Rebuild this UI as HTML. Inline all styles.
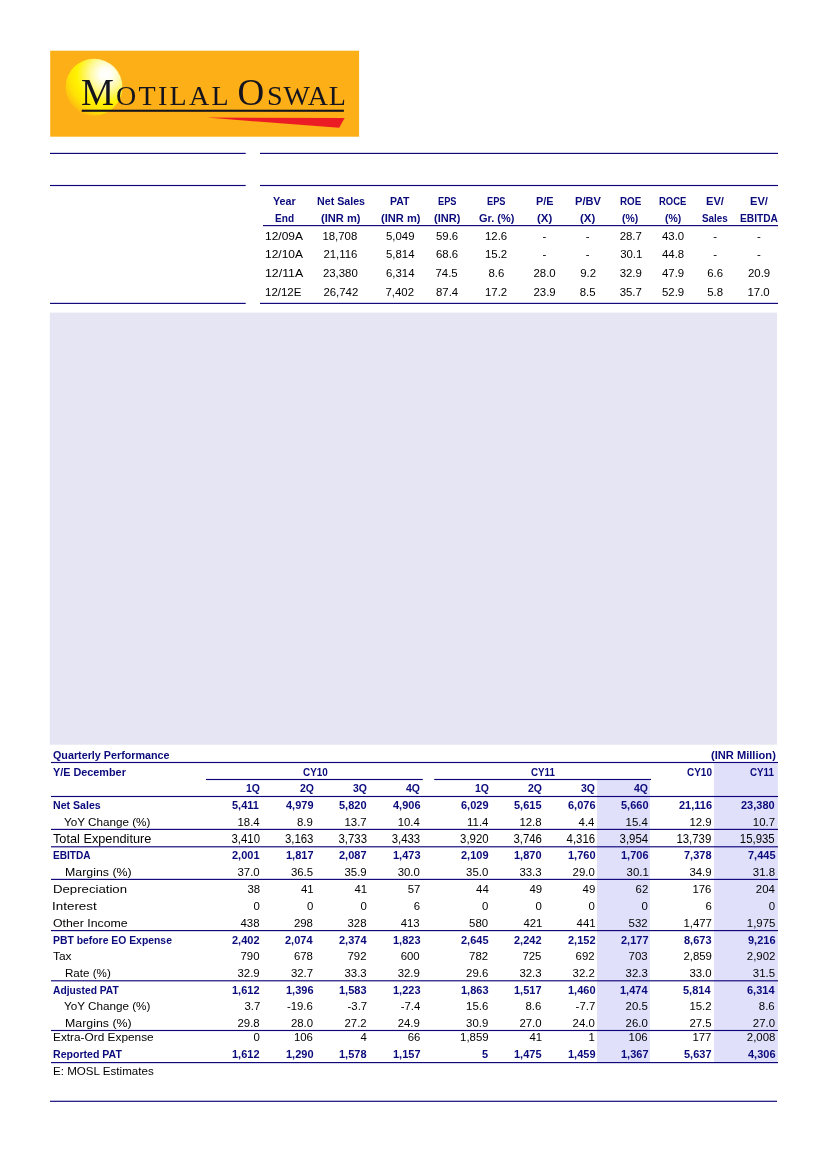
<!DOCTYPE html>
<html><head><meta charset="utf-8"><title>Motilal Oswal</title>
<style>
html,body{margin:0;padding:0;background:#fff}
body{width:826px;height:1169px;position:relative;overflow:hidden;font-family:"Liberation Sans",sans-serif;color:#000}
.ln,.bx,.t{position:absolute}
.t{white-space:nowrap;line-height:16px;font-size:11.4px;transform-origin:0 0}
#logo{position:absolute;left:50px;top:50px}
#rules{position:absolute;left:0;top:0}
</style></head><body>
<svg id="logo" width="310" height="88" viewBox="50 50 310 88">
<defs><radialGradient id="sun" cx="0.71" cy="0.27" r="0.82" fx="0.71" fy="0.27"><stop offset="0" stop-color="#ffffff"/><stop offset="0.13" stop-color="#fffff4"/><stop offset="0.32" stop-color="#fffaa8"/><stop offset="0.5" stop-color="#fff545"/><stop offset="0.63" stop-color="#fff200"/><stop offset="0.8" stop-color="#ffe205"/><stop offset="1" stop-color="#fdb813"/></radialGradient></defs>
<rect x="50.2" y="50.7" width="308.9" height="86" fill="#fdaf17"/>
<circle cx="94" cy="87.2" r="28.4" fill="url(#sun)"/>
<rect x="81.7" y="109.7" width="262.2" height="2.1" fill="#14141e"/>
<polygon points="207,117.6 344.6,117.9 339.2,127.8" fill="#ec1c24"/>
<text y="105.4" font-family="'Liberation Serif',serif" fill="#14141e" font-size="28"><tspan x="81" font-size="37">M</tspan><tspan x="116" letter-spacing="2.3">OTILAL</tspan><tspan x="229"> </tspan><tspan x="237.5" font-size="37">O</tspan><tspan x="267" letter-spacing="0.9">SWAL</tspan></text>
</svg>

<svg id="rules" width="826" height="1169" viewBox="0 0 826 1169">
<rect x="713.9" y="763.2" width="63.90" height="299.40" fill="#e0e0fb"/>
<rect x="597" y="780.2" width="52.90" height="282.40" fill="#e0e0fb"/>
<rect x="49.8" y="312.6" width="727.20" height="432.10" fill="#e6e5f3"/>
<rect x="50" y="152.83" width="195.70" height="1.15" fill="#0e047a"/>
<rect x="260" y="152.83" width="518.00" height="1.15" fill="#0e047a"/>
<rect x="50" y="184.93" width="195.70" height="1.15" fill="#0e047a"/>
<rect x="260" y="184.93" width="518.00" height="1.15" fill="#0e047a"/>
<rect x="263" y="225.03" width="515.00" height="1.15" fill="#0e047a"/>
<rect x="50" y="302.82" width="195.70" height="1.15" fill="#0e047a"/>
<rect x="260" y="302.82" width="518.00" height="1.15" fill="#0e047a"/>
<rect x="51" y="761.92" width="727.00" height="1.15" fill="#0e047a"/>
<rect x="206" y="778.92" width="216.80" height="1.15" fill="#0e047a"/>
<rect x="434.2" y="778.92" width="216.80" height="1.15" fill="#0e047a"/>
<rect x="51" y="795.92" width="727.00" height="1.15" fill="#0e047a"/>
<rect x="51" y="828.82" width="727.00" height="1.15" fill="#0e047a"/>
<rect x="51" y="846.22" width="727.00" height="1.15" fill="#0e047a"/>
<rect x="51" y="878.82" width="727.00" height="1.15" fill="#0e047a"/>
<rect x="51" y="930.02" width="727.00" height="1.15" fill="#0e047a"/>
<rect x="51" y="980.22" width="727.00" height="1.15" fill="#0e047a"/>
<rect x="51" y="1029.92" width="727.00" height="1.15" fill="#0e047a"/>
<rect x="51" y="1062.02" width="727.00" height="1.15" fill="#0e047a"/>
<rect x="50" y="1100.72" width="727.00" height="1.15" fill="#0e047a"/>
</svg>
<span class="t" style="left:273.05px;top:192.95px;color:#0a0a7c;font-weight:bold;transform:scale(0.946,1.000);">Year</span>
<span class="t" style="left:275.10px;top:209.85px;color:#0a0a7c;font-weight:bold;transform:scale(0.886,1.000);">End</span>
<span class="t" style="left:316.50px;top:192.95px;color:#0a0a7c;font-weight:bold;transform:scale(0.937,1.000);">Net Sales</span>
<span class="t" style="left:320.90px;top:209.85px;color:#0a0a7c;font-weight:bold;transform:scale(0.975,1.000);">(INR m)</span>
<span class="t" style="left:390.35px;top:192.95px;color:#0a0a7c;font-weight:bold;transform:scale(0.919,1.000);">PAT</span>
<span class="t" style="left:380.50px;top:209.85px;color:#0a0a7c;font-weight:bold;transform:scale(0.975,1.000);">(INR m)</span>
<span class="t" style="left:437.70px;top:192.95px;color:#0a0a7c;font-weight:bold;transform:scale(0.809,1.000);">EPS</span>
<span class="t" style="left:433.95px;top:209.85px;color:#0a0a7c;font-weight:bold;transform:scale(0.967,1.000);">(INR)</span>
<span class="t" style="left:487.20px;top:192.95px;color:#0a0a7c;font-weight:bold;transform:scale(0.809,1.000);">EPS</span>
<span class="t" style="left:478.70px;top:209.85px;color:#0a0a7c;font-weight:bold;transform:scale(0.962,1.000);">Gr. (%)</span>
<span class="t" style="left:535.90px;top:192.95px;color:#0a0a7c;font-weight:bold;transform:scale(0.956,1.000);">P/E</span>
<span class="t" style="left:536.95px;top:209.85px;color:#0a0a7c;font-weight:bold;transform:scale(1.007,1.000);">(X)</span>
<span class="t" style="left:575.05px;top:192.95px;color:#0a0a7c;font-weight:bold;transform:scale(0.973,1.000);">P/BV</span>
<span class="t" style="left:580.15px;top:209.85px;color:#0a0a7c;font-weight:bold;transform:scale(1.007,1.000);">(X)</span>
<span class="t" style="left:620.35px;top:192.95px;color:#0a0a7c;font-weight:bold;transform:scale(0.862,1.000);">ROE</span>
<span class="t" style="left:622.45px;top:209.85px;color:#0a0a7c;font-weight:bold;transform:scale(0.917,1.000);">(%)</span>
<span class="t" style="left:659.30px;top:192.95px;color:#0a0a7c;font-weight:bold;transform:scale(0.830,1.000);">ROCE</span>
<span class="t" style="left:664.75px;top:209.85px;color:#0a0a7c;font-weight:bold;transform:scale(0.917,1.000);">(%)</span>
<span class="t" style="left:706.40px;top:192.95px;color:#0a0a7c;font-weight:bold;transform:scale(0.978,1.000);">EV/</span>
<span class="t" style="left:702.20px;top:209.85px;color:#0a0a7c;font-weight:bold;transform:scale(0.867,1.000);">Sales</span>
<span class="t" style="left:750.20px;top:192.95px;color:#0a0a7c;font-weight:bold;transform:scale(0.978,1.000);">EV/</span>
<span class="t" style="left:740.20px;top:209.85px;color:#0a0a7c;font-weight:bold;transform:scale(0.895,1.000);">EBITDA</span>
<span class="t" style="left:264.65px;top:227.55px;transform:scale(1.051,1.000);">12/09A</span>
<span class="t" style="left:322.40px;top:227.55px;">18,708</span>
<span class="t" style="left:386.00px;top:227.55px;">5,049</span>
<span class="t" style="left:436.00px;top:227.55px;">59.6</span>
<span class="t" style="left:485.00px;top:227.55px;">12.6</span>
<span class="t" style="left:542.50px;top:227.55px;">-</span>
<span class="t" style="left:585.70px;top:227.55px;">-</span>
<span class="t" style="left:619.70px;top:227.55px;">28.7</span>
<span class="t" style="left:662.00px;top:227.55px;">43.0</span>
<span class="t" style="left:713.20px;top:227.55px;">-</span>
<span class="t" style="left:757.00px;top:227.55px;">-</span>
<span class="t" style="left:264.65px;top:246.45px;transform:scale(1.051,1.000);">12/10A</span>
<span class="t" style="left:323.40px;top:246.45px;">21,116</span>
<span class="t" style="left:386.00px;top:246.45px;">5,814</span>
<span class="t" style="left:436.00px;top:246.45px;">68.6</span>
<span class="t" style="left:485.00px;top:246.45px;">15.2</span>
<span class="t" style="left:542.50px;top:246.45px;">-</span>
<span class="t" style="left:585.70px;top:246.45px;">-</span>
<span class="t" style="left:620.20px;top:246.45px;">30.1</span>
<span class="t" style="left:662.00px;top:246.45px;">44.8</span>
<span class="t" style="left:713.20px;top:246.45px;">-</span>
<span class="t" style="left:757.00px;top:246.45px;">-</span>
<span class="t" style="left:264.62px;top:264.95px;transform:scale(1.082,1.000);">12/11A</span>
<span class="t" style="left:322.90px;top:264.95px;">23,380</span>
<span class="t" style="left:386.00px;top:264.95px;">6,314</span>
<span class="t" style="left:435.50px;top:264.95px;">74.5</span>
<span class="t" style="left:488.50px;top:264.95px;">8.6</span>
<span class="t" style="left:533.50px;top:264.95px;">28.0</span>
<span class="t" style="left:580.20px;top:264.95px;">9.2</span>
<span class="t" style="left:619.70px;top:264.95px;">32.9</span>
<span class="t" style="left:662.00px;top:264.95px;">47.9</span>
<span class="t" style="left:707.20px;top:264.95px;">6.6</span>
<span class="t" style="left:748.00px;top:264.95px;">20.9</span>
<span class="t" style="left:264.69px;top:283.65px;transform:scale(1.009,1.000);">12/12E</span>
<span class="t" style="left:323.40px;top:283.65px;">26,742</span>
<span class="t" style="left:385.50px;top:283.65px;">7,402</span>
<span class="t" style="left:436.00px;top:283.65px;">87.4</span>
<span class="t" style="left:485.00px;top:283.65px;">17.2</span>
<span class="t" style="left:533.50px;top:283.65px;">23.9</span>
<span class="t" style="left:579.70px;top:283.65px;">8.5</span>
<span class="t" style="left:619.70px;top:283.65px;">35.7</span>
<span class="t" style="left:662.00px;top:283.65px;">52.9</span>
<span class="t" style="left:707.20px;top:283.65px;">5.8</span>
<span class="t" style="left:747.50px;top:283.65px;">17.0</span>
<span class="t" style="left:53.40px;top:746.55px;color:#0a0a7c;font-weight:bold;transform:scale(0.944,1.000);">Quarterly Performance</span>
<span class="t" style="left:710.90px;top:746.55px;color:#0a0a7c;font-weight:bold;transform:scale(0.976,1.000);">(INR Million)</span>
<span class="t" style="left:53.40px;top:763.95px;color:#0a0a7c;font-weight:bold;transform:scale(0.951,1.000);">Y/E December</span>
<span class="t" style="left:302.55px;top:763.95px;color:#0a0a7c;font-weight:bold;transform:scale(0.868,1.000);">CY10</span>
<span class="t" style="left:531.00px;top:763.95px;color:#0a0a7c;font-weight:bold;transform:scale(0.857,1.000);">CY11</span>
<span class="t" style="left:687.20px;top:763.95px;color:#0a0a7c;font-weight:bold;transform:scale(0.875,1.000);">CY10</span>
<span class="t" style="left:750.40px;top:763.95px;color:#0a0a7c;font-weight:bold;transform:scale(0.857,1.000);">CY11</span>
<span class="t" style="left:246.20px;top:779.95px;color:#0a0a7c;font-weight:bold;transform:scale(0.920,1.000);">1Q</span>
<span class="t" style="left:299.60px;top:779.95px;color:#0a0a7c;font-weight:bold;transform:scale(0.920,1.000);">2Q</span>
<span class="t" style="left:353.20px;top:779.95px;color:#0a0a7c;font-weight:bold;transform:scale(0.920,1.000);">3Q</span>
<span class="t" style="left:406.40px;top:779.95px;color:#0a0a7c;font-weight:bold;transform:scale(0.920,1.000);">4Q</span>
<span class="t" style="left:474.80px;top:779.95px;color:#0a0a7c;font-weight:bold;transform:scale(0.920,1.000);">1Q</span>
<span class="t" style="left:528.10px;top:779.95px;color:#0a0a7c;font-weight:bold;transform:scale(0.920,1.000);">2Q</span>
<span class="t" style="left:581.30px;top:779.95px;color:#0a0a7c;font-weight:bold;transform:scale(0.920,1.000);">3Q</span>
<span class="t" style="left:634.30px;top:779.95px;color:#0a0a7c;font-weight:bold;transform:scale(0.920,1.000);">4Q</span>
<span class="t" style="left:53.40px;top:797.05px;color:#0a0a7c;font-weight:bold;transform:scale(0.931,1.000);">Net Sales</span>
<span class="t" style="left:232.48px;top:797.05px;color:#0a0a7c;font-weight:bold;transform:scale(0.965,1.000);">5,411</span>
<span class="t" style="left:285.88px;top:797.05px;color:#0a0a7c;font-weight:bold;transform:scale(0.965,1.000);">4,979</span>
<span class="t" style="left:339.48px;top:797.05px;color:#0a0a7c;font-weight:bold;transform:scale(0.965,1.000);">5,820</span>
<span class="t" style="left:392.68px;top:797.05px;color:#0a0a7c;font-weight:bold;transform:scale(0.965,1.000);">4,906</span>
<span class="t" style="left:461.08px;top:797.05px;color:#0a0a7c;font-weight:bold;transform:scale(0.965,1.000);">6,029</span>
<span class="t" style="left:514.38px;top:797.05px;color:#0a0a7c;font-weight:bold;transform:scale(0.965,1.000);">5,615</span>
<span class="t" style="left:567.58px;top:797.05px;color:#0a0a7c;font-weight:bold;transform:scale(0.965,1.000);">6,076</span>
<span class="t" style="left:620.58px;top:797.05px;color:#0a0a7c;font-weight:bold;transform:scale(0.965,1.000);">5,660</span>
<span class="t" style="left:678.59px;top:797.05px;color:#0a0a7c;font-weight:bold;transform:scale(0.965,1.000);">21,116</span>
<span class="t" style="left:741.02px;top:797.05px;color:#0a0a7c;font-weight:bold;transform:scale(0.965,1.000);">23,380</span>
<span class="t" style="left:63.97px;top:813.85px;transform:scale(1.025,1.000);">YoY Change (%)</span>
<span class="t" style="left:237.50px;top:813.85px;">18.4</span>
<span class="t" style="left:296.90px;top:813.85px;">8.9</span>
<span class="t" style="left:344.50px;top:813.85px;">13.7</span>
<span class="t" style="left:397.70px;top:813.85px;">10.4</span>
<span class="t" style="left:467.10px;top:813.85px;">11.4</span>
<span class="t" style="left:519.40px;top:813.85px;">12.8</span>
<span class="t" style="left:578.60px;top:813.85px;">4.4</span>
<span class="t" style="left:625.60px;top:813.85px;">15.4</span>
<span class="t" style="left:689.40px;top:813.85px;">12.9</span>
<span class="t" style="left:752.80px;top:813.85px;">10.7</span>
<span class="t" style="left:53.40px;top:830.65px;transform:scale(1.117,1.070);transform-origin:0 11.95px;">Total Expenditure</span>
<span class="t" style="left:231.50px;top:830.65px;transform:scale(1.000,1.070);transform-origin:0 11.95px;">3,410</span>
<span class="t" style="left:284.90px;top:830.65px;transform:scale(1.000,1.070);transform-origin:0 11.95px;">3,163</span>
<span class="t" style="left:338.50px;top:830.65px;transform:scale(1.000,1.070);transform-origin:0 11.95px;">3,733</span>
<span class="t" style="left:391.70px;top:830.65px;transform:scale(1.000,1.070);transform-origin:0 11.95px;">3,433</span>
<span class="t" style="left:460.10px;top:830.65px;transform:scale(1.000,1.070);transform-origin:0 11.95px;">3,920</span>
<span class="t" style="left:513.40px;top:830.65px;transform:scale(1.000,1.070);transform-origin:0 11.95px;">3,746</span>
<span class="t" style="left:566.60px;top:830.65px;transform:scale(1.000,1.070);transform-origin:0 11.95px;">4,316</span>
<span class="t" style="left:619.60px;top:830.65px;transform:scale(1.000,1.070);transform-origin:0 11.95px;">3,954</span>
<span class="t" style="left:676.40px;top:830.65px;transform:scale(1.000,1.070);transform-origin:0 11.95px;">13,739</span>
<span class="t" style="left:739.80px;top:830.65px;transform:scale(1.000,1.070);transform-origin:0 11.95px;">15,935</span>
<span class="t" style="left:53.40px;top:847.05px;color:#0a0a7c;font-weight:bold;transform:scale(0.888,1.000);">EBITDA</span>
<span class="t" style="left:232.48px;top:847.05px;color:#0a0a7c;font-weight:bold;transform:scale(0.965,1.000);">2,001</span>
<span class="t" style="left:285.88px;top:847.05px;color:#0a0a7c;font-weight:bold;transform:scale(0.965,1.000);">1,817</span>
<span class="t" style="left:339.48px;top:847.05px;color:#0a0a7c;font-weight:bold;transform:scale(0.965,1.000);">2,087</span>
<span class="t" style="left:392.68px;top:847.05px;color:#0a0a7c;font-weight:bold;transform:scale(0.965,1.000);">1,473</span>
<span class="t" style="left:461.08px;top:847.05px;color:#0a0a7c;font-weight:bold;transform:scale(0.965,1.000);">2,109</span>
<span class="t" style="left:514.38px;top:847.05px;color:#0a0a7c;font-weight:bold;transform:scale(0.965,1.000);">1,870</span>
<span class="t" style="left:567.58px;top:847.05px;color:#0a0a7c;font-weight:bold;transform:scale(0.965,1.000);">1,760</span>
<span class="t" style="left:620.58px;top:847.05px;color:#0a0a7c;font-weight:bold;transform:scale(0.965,1.000);">1,706</span>
<span class="t" style="left:684.38px;top:847.05px;color:#0a0a7c;font-weight:bold;transform:scale(0.965,1.000);">7,378</span>
<span class="t" style="left:747.78px;top:847.05px;color:#0a0a7c;font-weight:bold;transform:scale(0.965,1.000);">7,445</span>
<span class="t" style="left:65.00px;top:863.85px;transform:scale(1.085,1.000);">Margins (%)</span>
<span class="t" style="left:237.50px;top:863.85px;">37.0</span>
<span class="t" style="left:290.90px;top:863.85px;">36.5</span>
<span class="t" style="left:344.50px;top:863.85px;">35.9</span>
<span class="t" style="left:397.70px;top:863.85px;">30.0</span>
<span class="t" style="left:466.10px;top:863.85px;">35.0</span>
<span class="t" style="left:519.40px;top:863.85px;">33.3</span>
<span class="t" style="left:572.60px;top:863.85px;">29.0</span>
<span class="t" style="left:626.60px;top:863.85px;">30.1</span>
<span class="t" style="left:689.40px;top:863.85px;">34.9</span>
<span class="t" style="left:752.80px;top:863.85px;">31.8</span>
<span class="t" style="left:53.40px;top:880.75px;transform:scale(1.157,1.000);">Depreciation</span>
<span class="t" style="left:247.50px;top:880.75px;">38</span>
<span class="t" style="left:300.90px;top:880.75px;">41</span>
<span class="t" style="left:354.50px;top:880.75px;">41</span>
<span class="t" style="left:407.70px;top:880.75px;">57</span>
<span class="t" style="left:476.10px;top:880.75px;">44</span>
<span class="t" style="left:529.40px;top:880.75px;">49</span>
<span class="t" style="left:582.60px;top:880.75px;">49</span>
<span class="t" style="left:635.60px;top:880.75px;">62</span>
<span class="t" style="left:692.40px;top:880.75px;">176</span>
<span class="t" style="left:755.80px;top:880.75px;">204</span>
<span class="t" style="left:52.22px;top:897.65px;transform:scale(1.178,1.000);">Interest</span>
<span class="t" style="left:253.50px;top:897.65px;">0</span>
<span class="t" style="left:306.90px;top:897.65px;">0</span>
<span class="t" style="left:360.50px;top:897.65px;">0</span>
<span class="t" style="left:413.70px;top:897.65px;">6</span>
<span class="t" style="left:482.10px;top:897.65px;">0</span>
<span class="t" style="left:535.40px;top:897.65px;">0</span>
<span class="t" style="left:588.60px;top:897.65px;">0</span>
<span class="t" style="left:641.60px;top:897.65px;">0</span>
<span class="t" style="left:705.40px;top:897.65px;">6</span>
<span class="t" style="left:768.80px;top:897.65px;">0</span>
<span class="t" style="left:53.40px;top:914.55px;transform:scale(1.081,1.000);">Other Income</span>
<span class="t" style="left:240.50px;top:914.55px;">438</span>
<span class="t" style="left:293.90px;top:914.55px;">298</span>
<span class="t" style="left:347.50px;top:914.55px;">328</span>
<span class="t" style="left:400.70px;top:914.55px;">413</span>
<span class="t" style="left:469.10px;top:914.55px;">580</span>
<span class="t" style="left:523.40px;top:914.55px;">421</span>
<span class="t" style="left:576.60px;top:914.55px;">441</span>
<span class="t" style="left:628.60px;top:914.55px;">532</span>
<span class="t" style="left:683.40px;top:914.55px;">1,477</span>
<span class="t" style="left:746.80px;top:914.55px;">1,975</span>
<span class="t" style="left:53.40px;top:931.85px;color:#0a0a7c;font-weight:bold;transform:scale(0.912,1.000);">PBT before EO Expense</span>
<span class="t" style="left:232.48px;top:931.85px;color:#0a0a7c;font-weight:bold;transform:scale(0.965,1.000);">2,402</span>
<span class="t" style="left:284.91px;top:931.85px;color:#0a0a7c;font-weight:bold;transform:scale(0.965,1.000);">2,074</span>
<span class="t" style="left:338.51px;top:931.85px;color:#0a0a7c;font-weight:bold;transform:scale(0.965,1.000);">2,374</span>
<span class="t" style="left:392.68px;top:931.85px;color:#0a0a7c;font-weight:bold;transform:scale(0.965,1.000);">1,823</span>
<span class="t" style="left:461.08px;top:931.85px;color:#0a0a7c;font-weight:bold;transform:scale(0.965,1.000);">2,645</span>
<span class="t" style="left:514.38px;top:931.85px;color:#0a0a7c;font-weight:bold;transform:scale(0.965,1.000);">2,242</span>
<span class="t" style="left:567.58px;top:931.85px;color:#0a0a7c;font-weight:bold;transform:scale(0.965,1.000);">2,152</span>
<span class="t" style="left:620.58px;top:931.85px;color:#0a0a7c;font-weight:bold;transform:scale(0.965,1.000);">2,177</span>
<span class="t" style="left:684.38px;top:931.85px;color:#0a0a7c;font-weight:bold;transform:scale(0.965,1.000);">8,673</span>
<span class="t" style="left:747.78px;top:931.85px;color:#0a0a7c;font-weight:bold;transform:scale(0.965,1.000);">9,216</span>
<span class="t" style="left:53.40px;top:948.25px;transform:scale(1.047,1.000);">Tax</span>
<span class="t" style="left:240.50px;top:948.25px;">790</span>
<span class="t" style="left:293.90px;top:948.25px;">678</span>
<span class="t" style="left:347.50px;top:948.25px;">792</span>
<span class="t" style="left:400.70px;top:948.25px;">600</span>
<span class="t" style="left:469.10px;top:948.25px;">782</span>
<span class="t" style="left:522.40px;top:948.25px;">725</span>
<span class="t" style="left:575.60px;top:948.25px;">692</span>
<span class="t" style="left:628.60px;top:948.25px;">703</span>
<span class="t" style="left:683.40px;top:948.25px;">2,859</span>
<span class="t" style="left:746.80px;top:948.25px;">2,902</span>
<span class="t" style="left:65.00px;top:964.85px;transform:scale(1.018,1.000);">Rate (%)</span>
<span class="t" style="left:237.50px;top:964.85px;">32.9</span>
<span class="t" style="left:290.90px;top:964.85px;">32.7</span>
<span class="t" style="left:344.50px;top:964.85px;">33.3</span>
<span class="t" style="left:397.70px;top:964.85px;">32.9</span>
<span class="t" style="left:466.10px;top:964.85px;">29.6</span>
<span class="t" style="left:519.40px;top:964.85px;">32.3</span>
<span class="t" style="left:572.60px;top:964.85px;">32.2</span>
<span class="t" style="left:625.60px;top:964.85px;">32.3</span>
<span class="t" style="left:689.40px;top:964.85px;">33.0</span>
<span class="t" style="left:752.80px;top:964.85px;">31.5</span>
<span class="t" style="left:53.40px;top:981.65px;color:#0a0a7c;font-weight:bold;transform:scale(0.901,1.000);">Adjusted PAT</span>
<span class="t" style="left:232.48px;top:981.65px;color:#0a0a7c;font-weight:bold;transform:scale(0.965,1.000);">1,612</span>
<span class="t" style="left:285.88px;top:981.65px;color:#0a0a7c;font-weight:bold;transform:scale(0.965,1.000);">1,396</span>
<span class="t" style="left:339.48px;top:981.65px;color:#0a0a7c;font-weight:bold;transform:scale(0.965,1.000);">1,583</span>
<span class="t" style="left:392.68px;top:981.65px;color:#0a0a7c;font-weight:bold;transform:scale(0.965,1.000);">1,223</span>
<span class="t" style="left:461.08px;top:981.65px;color:#0a0a7c;font-weight:bold;transform:scale(0.965,1.000);">1,863</span>
<span class="t" style="left:514.38px;top:981.65px;color:#0a0a7c;font-weight:bold;transform:scale(0.965,1.000);">1,517</span>
<span class="t" style="left:567.58px;top:981.65px;color:#0a0a7c;font-weight:bold;transform:scale(0.965,1.000);">1,460</span>
<span class="t" style="left:619.62px;top:981.65px;color:#0a0a7c;font-weight:bold;transform:scale(0.965,1.000);">1,474</span>
<span class="t" style="left:683.41px;top:981.65px;color:#0a0a7c;font-weight:bold;transform:scale(0.965,1.000);">5,814</span>
<span class="t" style="left:746.81px;top:981.65px;color:#0a0a7c;font-weight:bold;transform:scale(0.965,1.000);">6,314</span>
<span class="t" style="left:63.97px;top:998.45px;transform:scale(1.025,1.000);">YoY Change (%)</span>
<span class="t" style="left:244.50px;top:998.45px;">3.7</span>
<span class="t" style="left:286.90px;top:998.45px;">-19.6</span>
<span class="t" style="left:347.50px;top:998.45px;">-3.7</span>
<span class="t" style="left:400.70px;top:998.45px;">-7.4</span>
<span class="t" style="left:466.10px;top:998.45px;">15.6</span>
<span class="t" style="left:525.40px;top:998.45px;">8.6</span>
<span class="t" style="left:575.60px;top:998.45px;">-7.7</span>
<span class="t" style="left:625.60px;top:998.45px;">20.5</span>
<span class="t" style="left:689.40px;top:998.45px;">15.2</span>
<span class="t" style="left:758.80px;top:998.45px;">8.6</span>
<span class="t" style="left:65.00px;top:1014.75px;transform:scale(1.085,1.000);">Margins (%)</span>
<span class="t" style="left:237.50px;top:1014.75px;">29.8</span>
<span class="t" style="left:290.90px;top:1014.75px;">28.0</span>
<span class="t" style="left:344.50px;top:1014.75px;">27.2</span>
<span class="t" style="left:397.70px;top:1014.75px;">24.9</span>
<span class="t" style="left:466.10px;top:1014.75px;">30.9</span>
<span class="t" style="left:519.40px;top:1014.75px;">27.0</span>
<span class="t" style="left:572.60px;top:1014.75px;">24.0</span>
<span class="t" style="left:625.60px;top:1014.75px;">26.0</span>
<span class="t" style="left:689.40px;top:1014.75px;">27.5</span>
<span class="t" style="left:752.80px;top:1014.75px;">27.0</span>
<span class="t" style="left:53.40px;top:1029.45px;transform:scale(1.039,1.000);">Extra-Ord Expense</span>
<span class="t" style="left:253.50px;top:1029.45px;">0</span>
<span class="t" style="left:293.90px;top:1029.45px;">106</span>
<span class="t" style="left:360.50px;top:1029.45px;">4</span>
<span class="t" style="left:407.70px;top:1029.45px;">66</span>
<span class="t" style="left:460.10px;top:1029.45px;">1,859</span>
<span class="t" style="left:529.40px;top:1029.45px;">41</span>
<span class="t" style="left:588.60px;top:1029.45px;">1</span>
<span class="t" style="left:628.60px;top:1029.45px;">106</span>
<span class="t" style="left:692.40px;top:1029.45px;">177</span>
<span class="t" style="left:746.80px;top:1029.45px;">2,008</span>
<span class="t" style="left:53.40px;top:1046.45px;color:#0a0a7c;font-weight:bold;transform:scale(0.927,1.000);">Reported PAT</span>
<span class="t" style="left:232.48px;top:1046.45px;color:#0a0a7c;font-weight:bold;transform:scale(0.965,1.000);">1,612</span>
<span class="t" style="left:285.88px;top:1046.45px;color:#0a0a7c;font-weight:bold;transform:scale(0.965,1.000);">1,290</span>
<span class="t" style="left:339.48px;top:1046.45px;color:#0a0a7c;font-weight:bold;transform:scale(0.965,1.000);">1,578</span>
<span class="t" style="left:392.68px;top:1046.45px;color:#0a0a7c;font-weight:bold;transform:scale(0.965,1.000);">1,157</span>
<span class="t" style="left:482.31px;top:1046.45px;color:#0a0a7c;font-weight:bold;transform:scale(0.965,1.000);">5</span>
<span class="t" style="left:514.38px;top:1046.45px;color:#0a0a7c;font-weight:bold;transform:scale(0.965,1.000);">1,475</span>
<span class="t" style="left:567.58px;top:1046.45px;color:#0a0a7c;font-weight:bold;transform:scale(0.965,1.000);">1,459</span>
<span class="t" style="left:620.58px;top:1046.45px;color:#0a0a7c;font-weight:bold;transform:scale(0.965,1.000);">1,367</span>
<span class="t" style="left:684.38px;top:1046.45px;color:#0a0a7c;font-weight:bold;transform:scale(0.965,1.000);">5,637</span>
<span class="t" style="left:747.78px;top:1046.45px;color:#0a0a7c;font-weight:bold;transform:scale(0.965,1.000);">4,306</span>
<span class="t" style="left:53.40px;top:1062.55px;transform:scale(1.018,1.000);">E: MOSL Estimates</span>
</body></html>
